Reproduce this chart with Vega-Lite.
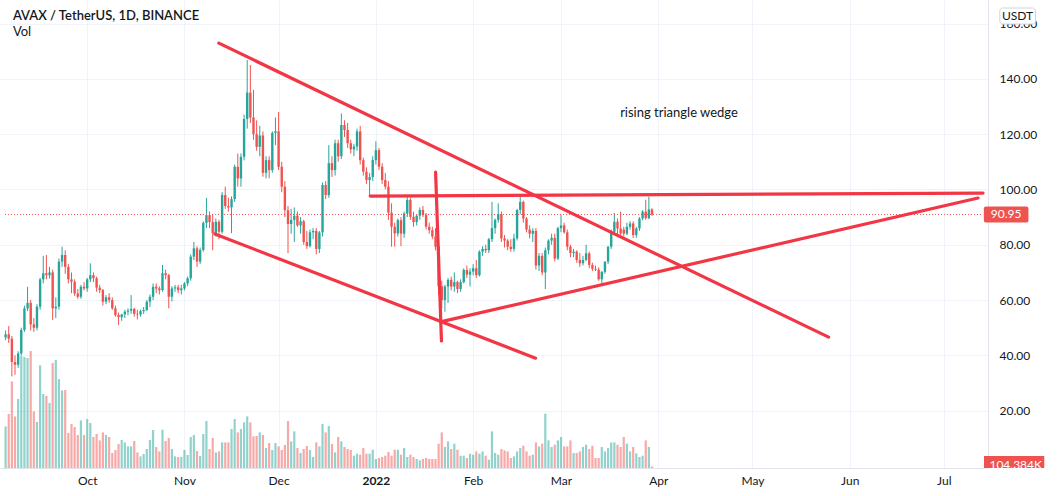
{
"$schema": "https://vega.github.io/schema/vega-lite/v6.json",
"width": 988,
"height": 468,
"autosize": {"type": "none"},
"padding": {"left": 0, "top": 0, "right": 71, "bottom": 28},
"background": "#ffffff",
"config": {
  "view": {"stroke": null},
  "font": "Lato",
  "axis": {"labelFont": "Lato", "labelFontSize": 12, "labelColor": "#131722", "gridColor": "#f0f3fa", "gridWidth": 1, "domainColor": "#e0e3eb", "ticks": false, "tickSize": 0}
},
"datasets": {
  "candles": [
    {"date":"2021-09-05","o":46.5,"h":49.0,"l":45.5,"c":47.6,"v":2829},
    {"date":"2021-09-06","o":47.6,"h":50.6,"l":44.5,"c":46.0,"v":3672},
    {"date":"2021-09-07","o":46.0,"h":47.0,"l":32.4,"c":37.6,"v":5889},
    {"date":"2021-09-08","o":37.6,"h":40.0,"l":33.0,"c":36.6,"v":3509},
    {"date":"2021-09-09","o":36.6,"h":41.5,"l":35.5,"c":40.7,"v":4692},
    {"date":"2021-09-10","o":40.7,"h":50.0,"l":40.0,"c":49.2,"v":7616},
    {"date":"2021-09-11","o":49.2,"h":58.0,"l":48.5,"c":57.0,"v":7548},
    {"date":"2021-09-12","o":57.0,"h":64.8,"l":56.0,"c":59.0,"v":7480},
    {"date":"2021-09-13","o":59.0,"h":60.0,"l":49.0,"c":51.2,"v":7956},
    {"date":"2021-09-14","o":51.2,"h":53.5,"l":48.5,"c":50.0,"v":3849},
    {"date":"2021-09-15","o":50.0,"h":58.5,"l":49.0,"c":57.6,"v":3128},
    {"date":"2021-09-16","o":57.6,"h":68.0,"l":56.5,"c":67.5,"v":6977},
    {"date":"2021-09-17","o":67.5,"h":76.0,"l":66.0,"c":69.7,"v":5032},
    {"date":"2021-09-18","o":69.7,"h":76.3,"l":67.5,"c":69.0,"v":4896},
    {"date":"2021-09-19","o":69.0,"h":72.0,"l":67.8,"c":70.0,"v":4420},
    {"date":"2021-09-20","o":70.0,"h":71.0,"l":52.8,"c":57.0,"v":7140},
    {"date":"2021-09-21","o":57.0,"h":61.0,"l":53.5,"c":57.6,"v":7344},
    {"date":"2021-09-22","o":57.6,"h":75.0,"l":56.5,"c":73.9,"v":6052},
    {"date":"2021-09-23","o":73.9,"h":79.3,"l":72.0,"c":76.3,"v":5277},
    {"date":"2021-09-24","o":76.3,"h":78.0,"l":69.5,"c":72.0,"v":5304},
    {"date":"2021-09-25","o":72.0,"h":73.0,"l":66.0,"c":67.5,"v":2380},
    {"date":"2021-09-26","o":67.5,"h":70.0,"l":62.5,"c":66.6,"v":2992},
    {"date":"2021-09-27","o":66.6,"h":67.5,"l":61.5,"c":62.4,"v":2788},
    {"date":"2021-09-28","o":62.4,"h":64.0,"l":60.5,"c":61.2,"v":2244},
    {"date":"2021-09-29","o":61.2,"h":65.5,"l":60.5,"c":64.8,"v":3237},
    {"date":"2021-09-30","o":64.8,"h":66.5,"l":63.5,"c":64.2,"v":2244},
    {"date":"2021-10-01","o":64.2,"h":68.0,"l":63.0,"c":67.5,"v":3332},
    {"date":"2021-10-02","o":67.5,"h":73.3,"l":66.5,"c":69.0,"v":3060},
    {"date":"2021-10-03","o":69.0,"h":70.0,"l":66.5,"c":67.9,"v":2108},
    {"date":"2021-10-04","o":67.9,"h":68.5,"l":63.0,"c":64.5,"v":2312},
    {"date":"2021-10-05","o":64.5,"h":65.5,"l":62.5,"c":63.6,"v":1877},
    {"date":"2021-10-06","o":63.6,"h":64.0,"l":58.0,"c":59.4,"v":2421},
    {"date":"2021-10-07","o":59.4,"h":61.8,"l":58.5,"c":61.0,"v":2244},
    {"date":"2021-10-08","o":61.0,"h":62.5,"l":59.0,"c":60.0,"v":2108},
    {"date":"2021-10-09","o":60.0,"h":61.0,"l":56.5,"c":57.0,"v":1020},
    {"date":"2021-10-10","o":57.0,"h":58.0,"l":54.0,"c":54.6,"v":1224},
    {"date":"2021-10-11","o":54.6,"h":55.5,"l":51.0,"c":53.8,"v":1632},
    {"date":"2021-10-12","o":53.8,"h":55.0,"l":52.5,"c":54.8,"v":1904},
    {"date":"2021-10-13","o":54.8,"h":56.5,"l":53.5,"c":55.8,"v":1741},
    {"date":"2021-10-14","o":55.8,"h":57.0,"l":54.5,"c":56.2,"v":1469},
    {"date":"2021-10-15","o":56.2,"h":61.8,"l":55.0,"c":56.8,"v":1469},
    {"date":"2021-10-16","o":56.8,"h":57.2,"l":54.0,"c":55.0,"v":1836},
    {"date":"2021-10-17","o":55.0,"h":56.5,"l":53.0,"c":54.8,"v":1061},
    {"date":"2021-10-18","o":54.8,"h":56.5,"l":54.0,"c":56.0,"v":789},
    {"date":"2021-10-19","o":56.0,"h":57.5,"l":55.0,"c":56.4,"v":952},
    {"date":"2021-10-20","o":56.4,"h":60.0,"l":56.0,"c":59.4,"v":1292},
    {"date":"2021-10-21","o":59.4,"h":62.0,"l":57.5,"c":61.2,"v":1904},
    {"date":"2021-10-22","o":61.2,"h":66.0,"l":60.0,"c":64.8,"v":2584},
    {"date":"2021-10-23","o":64.8,"h":66.0,"l":62.5,"c":64.2,"v":1428},
    {"date":"2021-10-24","o":64.2,"h":65.0,"l":62.0,"c":63.6,"v":1129},
    {"date":"2021-10-25","o":63.6,"h":72.7,"l":63.0,"c":69.7,"v":2600},
    {"date":"2021-10-26","o":69.7,"h":71.0,"l":67.5,"c":69.0,"v":1836},
    {"date":"2021-10-27","o":69.0,"h":69.5,"l":57.0,"c":61.2,"v":2040},
    {"date":"2021-10-28","o":61.2,"h":65.0,"l":59.5,"c":64.2,"v":1292},
    {"date":"2021-10-29","o":64.2,"h":65.5,"l":63.0,"c":64.6,"v":789},
    {"date":"2021-10-30","o":64.6,"h":65.5,"l":62.5,"c":63.6,"v":748},
    {"date":"2021-10-31","o":63.6,"h":65.5,"l":62.0,"c":64.2,"v":748},
    {"date":"2021-11-01","o":64.2,"h":66.5,"l":63.5,"c":66.0,"v":1224},
    {"date":"2021-11-02","o":66.0,"h":68.5,"l":65.0,"c":67.9,"v":884},
    {"date":"2021-11-03","o":67.9,"h":76.5,"l":67.0,"c":75.7,"v":2108},
    {"date":"2021-11-04","o":75.7,"h":81.0,"l":74.5,"c":78.7,"v":2244},
    {"date":"2021-11-05","o":78.7,"h":79.5,"l":72.0,"c":73.9,"v":1156},
    {"date":"2021-11-06","o":73.9,"h":79.0,"l":73.0,"c":78.1,"v":816},
    {"date":"2021-11-07","o":78.1,"h":88.5,"l":77.5,"c":87.9,"v":2312},
    {"date":"2021-11-08","o":87.9,"h":96.9,"l":86.0,"c":90.7,"v":3196},
    {"date":"2021-11-09","o":90.7,"h":92.0,"l":86.0,"c":88.2,"v":1292},
    {"date":"2021-11-10","o":88.2,"h":91.0,"l":78.0,"c":84.2,"v":2040},
    {"date":"2021-11-11","o":84.2,"h":89.5,"l":83.0,"c":88.3,"v":1061},
    {"date":"2021-11-12","o":88.3,"h":89.0,"l":82.0,"c":84.7,"v":1129},
    {"date":"2021-11-13","o":84.7,"h":99.0,"l":84.0,"c":98.0,"v":1741},
    {"date":"2021-11-14","o":98.0,"h":101.0,"l":93.0,"c":94.0,"v":1741},
    {"date":"2021-11-15","o":94.0,"h":97.0,"l":92.0,"c":93.5,"v":1741},
    {"date":"2021-11-16","o":93.5,"h":97.5,"l":84.2,"c":96.5,"v":2652},
    {"date":"2021-11-17","o":96.5,"h":109.0,"l":95.5,"c":108.2,"v":3332},
    {"date":"2021-11-18","o":108.2,"h":113.0,"l":101.0,"c":104.0,"v":2421},
    {"date":"2021-11-19","o":104.0,"h":113.0,"l":101.0,"c":111.8,"v":2652},
    {"date":"2021-11-20","o":111.8,"h":127.0,"l":110.5,"c":125.5,"v":3101},
    {"date":"2021-11-21","o":125.5,"h":146.8,"l":122.0,"c":135.0,"v":3509},
    {"date":"2021-11-22","o":135.0,"h":145.0,"l":124.0,"c":126.0,"v":3101},
    {"date":"2021-11-23","o":126.0,"h":136.0,"l":118.0,"c":120.0,"v":2149},
    {"date":"2021-11-24","o":120.0,"h":125.0,"l":114.0,"c":115.4,"v":2176},
    {"date":"2021-11-25","o":115.4,"h":123.0,"l":112.0,"c":119.5,"v":2421},
    {"date":"2021-11-26","o":119.5,"h":121.0,"l":104.6,"c":106.0,"v":2244},
    {"date":"2021-11-27","o":106.0,"h":112.0,"l":104.0,"c":110.6,"v":1360},
    {"date":"2021-11-28","o":110.6,"h":112.0,"l":104.0,"c":107.0,"v":1700},
    {"date":"2021-11-29","o":107.0,"h":121.0,"l":106.0,"c":120.4,"v":1224},
    {"date":"2021-11-30","o":120.4,"h":126.0,"l":116.0,"c":121.0,"v":1700},
    {"date":"2021-12-01","o":121.0,"h":128.0,"l":107.0,"c":108.2,"v":1469},
    {"date":"2021-12-02","o":108.2,"h":110.0,"l":99.0,"c":101.0,"v":1224},
    {"date":"2021-12-03","o":101.0,"h":103.0,"l":90.0,"c":92.5,"v":1564},
    {"date":"2021-12-04","o":92.5,"h":94.0,"l":77.0,"c":87.5,"v":3196},
    {"date":"2021-12-05","o":87.5,"h":93.0,"l":84.0,"c":89.0,"v":1809},
    {"date":"2021-12-06","o":89.0,"h":93.5,"l":81.0,"c":90.5,"v":2489},
    {"date":"2021-12-07","o":90.5,"h":92.0,"l":86.5,"c":87.0,"v":1360},
    {"date":"2021-12-08","o":87.0,"h":90.0,"l":84.0,"c":88.5,"v":1020},
    {"date":"2021-12-09","o":88.5,"h":89.0,"l":80.0,"c":81.0,"v":1292},
    {"date":"2021-12-10","o":81.0,"h":85.0,"l":78.5,"c":79.5,"v":1496},
    {"date":"2021-12-11","o":79.5,"h":85.5,"l":79.0,"c":84.5,"v":1224},
    {"date":"2021-12-12","o":84.5,"h":86.0,"l":82.0,"c":85.0,"v":748},
    {"date":"2021-12-13","o":85.0,"h":86.0,"l":76.5,"c":78.5,"v":1741},
    {"date":"2021-12-14","o":78.5,"h":85.0,"l":77.0,"c":84.5,"v":1469},
    {"date":"2021-12-15","o":84.5,"h":102.5,"l":83.0,"c":101.6,"v":2992},
    {"date":"2021-12-16","o":101.6,"h":103.0,"l":96.5,"c":98.0,"v":2421},
    {"date":"2021-12-17","o":98.0,"h":116.0,"l":97.0,"c":109.5,"v":2856},
    {"date":"2021-12-18","o":109.5,"h":112.0,"l":104.5,"c":107.0,"v":1632},
    {"date":"2021-12-19","o":107.0,"h":118.0,"l":105.0,"c":116.7,"v":1061},
    {"date":"2021-12-20","o":116.7,"h":118.0,"l":110.0,"c":112.0,"v":2108},
    {"date":"2021-12-21","o":112.0,"h":127.5,"l":111.0,"c":123.3,"v":1809},
    {"date":"2021-12-22","o":123.3,"h":125.0,"l":119.0,"c":121.5,"v":1428},
    {"date":"2021-12-23","o":121.5,"h":124.0,"l":115.0,"c":116.7,"v":1292},
    {"date":"2021-12-24","o":116.7,"h":118.0,"l":113.0,"c":114.5,"v":1224},
    {"date":"2021-12-25","o":114.5,"h":116.5,"l":112.0,"c":115.5,"v":836},
    {"date":"2021-12-26","o":115.5,"h":122.0,"l":114.0,"c":121.0,"v":972},
    {"date":"2021-12-27","o":121.0,"h":123.0,"l":109.0,"c":110.6,"v":904},
    {"date":"2021-12-28","o":110.6,"h":111.5,"l":105.0,"c":106.4,"v":1360},
    {"date":"2021-12-29","o":106.4,"h":108.0,"l":102.0,"c":103.4,"v":972},
    {"date":"2021-12-30","o":103.4,"h":106.0,"l":98.0,"c":104.5,"v":972},
    {"date":"2021-12-31","o":104.5,"h":112.0,"l":103.0,"c":110.6,"v":1244},
    {"date":"2022-01-01","o":110.6,"h":117.4,"l":109.0,"c":114.2,"v":612},
    {"date":"2022-01-02","o":114.2,"h":115.0,"l":107.0,"c":108.2,"v":680},
    {"date":"2022-01-03","o":108.2,"h":109.5,"l":102.0,"c":103.4,"v":748},
    {"date":"2022-01-04","o":103.4,"h":106.0,"l":100.0,"c":101.0,"v":836},
    {"date":"2022-01-05","o":101.0,"h":103.0,"l":89.0,"c":91.6,"v":1088},
    {"date":"2022-01-06","o":91.6,"h":95.0,"l":79.3,"c":86.5,"v":836},
    {"date":"2022-01-07","o":86.5,"h":88.0,"l":79.3,"c":84.1,"v":1244},
    {"date":"2022-01-08","o":84.1,"h":89.5,"l":83.0,"c":88.9,"v":1244},
    {"date":"2022-01-09","o":88.9,"h":90.0,"l":79.5,"c":84.0,"v":904},
    {"date":"2022-01-10","o":84.0,"h":92.0,"l":82.5,"c":91.3,"v":1360},
    {"date":"2022-01-11","o":91.3,"h":97.4,"l":90.0,"c":96.2,"v":748},
    {"date":"2022-01-12","o":96.2,"h":97.0,"l":89.0,"c":90.1,"v":904},
    {"date":"2022-01-13","o":90.1,"h":92.0,"l":86.5,"c":88.2,"v":748},
    {"date":"2022-01-14","o":88.2,"h":91.0,"l":87.0,"c":90.5,"v":612},
    {"date":"2022-01-15","o":90.5,"h":93.5,"l":89.0,"c":92.6,"v":517},
    {"date":"2022-01-16","o":92.6,"h":94.0,"l":90.0,"c":90.7,"v":612},
    {"date":"2022-01-17","o":90.7,"h":91.5,"l":85.5,"c":86.5,"v":680},
    {"date":"2022-01-18","o":86.5,"h":88.0,"l":84.0,"c":85.3,"v":612},
    {"date":"2022-01-19","o":85.3,"h":86.5,"l":82.0,"c":83.0,"v":612},
    {"date":"2022-01-20","o":83.0,"h":86.0,"l":78.0,"c":79.3,"v":612},
    {"date":"2022-01-21","o":79.3,"h":80.0,"l":62.0,"c":65.0,"v":1652},
    {"date":"2022-01-22","o":65.0,"h":67.0,"l":57.0,"c":60.0,"v":2421},
    {"date":"2022-01-23","o":60.0,"h":65.5,"l":55.8,"c":64.9,"v":1428},
    {"date":"2022-01-24","o":64.9,"h":68.0,"l":59.0,"c":67.3,"v":1809},
    {"date":"2022-01-25","o":67.3,"h":68.5,"l":63.5,"c":64.9,"v":1292},
    {"date":"2022-01-26","o":64.9,"h":70.0,"l":63.0,"c":66.5,"v":1652},
    {"date":"2022-01-27","o":66.5,"h":67.0,"l":62.5,"c":64.0,"v":1244},
    {"date":"2022-01-28","o":64.0,"h":67.5,"l":63.0,"c":66.5,"v":836},
    {"date":"2022-01-29","o":66.5,"h":71.5,"l":66.0,"c":70.9,"v":836},
    {"date":"2022-01-30","o":70.9,"h":72.5,"l":68.0,"c":69.2,"v":680},
    {"date":"2022-01-31","o":69.2,"h":71.5,"l":64.9,"c":70.3,"v":972},
    {"date":"2022-02-01","o":70.3,"h":73.0,"l":69.0,"c":71.5,"v":904},
    {"date":"2022-02-02","o":71.5,"h":74.5,"l":68.0,"c":69.0,"v":1129},
    {"date":"2022-02-03","o":69.0,"h":78.0,"l":68.5,"c":77.5,"v":972},
    {"date":"2022-02-04","o":77.5,"h":79.5,"l":76.0,"c":78.5,"v":1129},
    {"date":"2022-02-05","o":78.5,"h":80.0,"l":77.0,"c":78.0,"v":836},
    {"date":"2022-02-06","o":78.0,"h":82.5,"l":77.0,"c":82.0,"v":564},
    {"date":"2022-02-07","o":82.0,"h":95.5,"l":81.0,"c":86.0,"v":2489},
    {"date":"2022-02-08","o":86.0,"h":89.5,"l":84.0,"c":89.0,"v":1020},
    {"date":"2022-02-09","o":89.0,"h":95.0,"l":88.0,"c":91.0,"v":904},
    {"date":"2022-02-10","o":91.0,"h":92.0,"l":81.0,"c":82.3,"v":1292},
    {"date":"2022-02-11","o":82.3,"h":83.5,"l":79.0,"c":81.5,"v":1197},
    {"date":"2022-02-12","o":81.5,"h":82.0,"l":78.0,"c":79.3,"v":1129},
    {"date":"2022-02-13","o":79.3,"h":82.0,"l":77.5,"c":78.5,"v":680},
    {"date":"2022-02-14","o":78.5,"h":84.0,"l":77.5,"c":82.3,"v":789},
    {"date":"2022-02-15","o":82.3,"h":93.0,"l":81.5,"c":92.6,"v":1129},
    {"date":"2022-02-16","o":92.6,"h":97.5,"l":91.0,"c":95.5,"v":1360},
    {"date":"2022-02-17","o":95.5,"h":96.0,"l":88.0,"c":89.5,"v":1516},
    {"date":"2022-02-18","o":89.5,"h":90.0,"l":84.5,"c":85.5,"v":1129},
    {"date":"2022-02-19","o":85.5,"h":87.0,"l":82.3,"c":84.0,"v":836},
    {"date":"2022-02-20","o":84.0,"h":86.0,"l":81.0,"c":85.0,"v":904},
    {"date":"2022-02-21","o":85.0,"h":86.0,"l":71.0,"c":72.5,"v":1741},
    {"date":"2022-02-22","o":72.5,"h":77.0,"l":70.5,"c":76.0,"v":1469},
    {"date":"2022-02-23","o":76.0,"h":77.0,"l":69.0,"c":70.0,"v":1652},
    {"date":"2022-02-24","o":70.0,"h":79.0,"l":64.0,"c":78.0,"v":3692},
    {"date":"2022-02-25","o":78.0,"h":82.0,"l":76.5,"c":81.5,"v":1877},
    {"date":"2022-02-26","o":81.5,"h":84.0,"l":80.0,"c":82.5,"v":1428},
    {"date":"2022-02-27","o":82.5,"h":84.0,"l":74.0,"c":75.0,"v":1584},
    {"date":"2022-02-28","o":75.0,"h":86.5,"l":74.5,"c":86.0,"v":1877},
    {"date":"2022-03-01","o":86.0,"h":90.7,"l":84.5,"c":87.0,"v":2108},
    {"date":"2022-03-02","o":87.0,"h":88.0,"l":84.0,"c":84.5,"v":1469},
    {"date":"2022-03-03","o":84.5,"h":85.5,"l":78.0,"c":79.3,"v":1469},
    {"date":"2022-03-04","o":79.3,"h":80.0,"l":75.5,"c":77.0,"v":1877},
    {"date":"2022-03-05","o":77.0,"h":78.5,"l":75.5,"c":77.5,"v":1020},
    {"date":"2022-03-06","o":77.5,"h":78.0,"l":73.5,"c":74.5,"v":1020},
    {"date":"2022-03-07","o":74.5,"h":77.0,"l":72.0,"c":73.3,"v":1129},
    {"date":"2022-03-08","o":73.3,"h":76.0,"l":72.5,"c":74.5,"v":1428},
    {"date":"2022-03-09","o":74.5,"h":80.0,"l":74.0,"c":76.9,"v":1584},
    {"date":"2022-03-10","o":76.9,"h":77.5,"l":71.5,"c":72.7,"v":1292},
    {"date":"2022-03-11","o":72.7,"h":73.5,"l":70.5,"c":71.3,"v":1516},
    {"date":"2022-03-12","o":71.3,"h":72.5,"l":70.5,"c":71.0,"v":680},
    {"date":"2022-03-13","o":71.0,"h":71.8,"l":67.0,"c":67.5,"v":680},
    {"date":"2022-03-14","o":67.5,"h":70.5,"l":65.5,"c":70.2,"v":1428},
    {"date":"2022-03-15","o":70.2,"h":74.0,"l":69.5,"c":73.9,"v":1129},
    {"date":"2022-03-16","o":73.9,"h":79.5,"l":73.0,"c":79.3,"v":1360},
    {"date":"2022-03-17","o":79.3,"h":85.5,"l":78.5,"c":84.7,"v":1741},
    {"date":"2022-03-18","o":84.7,"h":91.5,"l":83.5,"c":88.3,"v":1741},
    {"date":"2022-03-19","o":88.3,"h":89.5,"l":83.5,"c":85.9,"v":1584},
    {"date":"2022-03-20","o":85.9,"h":92.0,"l":83.5,"c":84.1,"v":1428},
    {"date":"2022-03-21","o":85.5,"h":86.5,"l":83.0,"c":84.0,"v":2108},
    {"date":"2022-03-22","o":84.0,"h":88.0,"l":83.5,"c":86.5,"v":1652},
    {"date":"2022-03-23","o":86.5,"h":88.5,"l":85.5,"c":87.7,"v":1129},
    {"date":"2022-03-24","o":87.7,"h":88.5,"l":82.5,"c":83.5,"v":1428},
    {"date":"2022-03-25","o":83.5,"h":86.5,"l":82.5,"c":85.9,"v":1000},
    {"date":"2022-03-26","o":85.9,"h":90.0,"l":85.0,"c":89.5,"v":748},
    {"date":"2022-03-27","o":89.5,"h":92.5,"l":88.8,"c":92.0,"v":836},
    {"date":"2022-03-28","o":92.0,"h":96.3,"l":89.0,"c":89.6,"v":1877},
    {"date":"2022-03-29","o":89.6,"h":97.4,"l":89.2,"c":92.8,"v":1428},
    {"date":"2022-03-30","o":92.8,"h":93.2,"l":90.4,"c":90.95,"v":104.384}
  ],
  "drawn": [
    {"date":"2021-11-11T22:48:00Z","date2":"2022-05-25T06:29:00Z","p":152.9,"p2":46.6},
    {"date":"2021-11-10T16:34:00Z","date2":"2022-02-20T21:36:00Z","p":83.9,"p2":39.0},
    {"date":"2022-01-20T00:43:00Z","date2":"2022-01-21T21:36:00Z","p":106.3,"p2":45.2},
    {"date":"2021-12-30T04:48:00Z","date2":"2022-07-13T11:30:00Z","p":97.6,"p2":98.7},
    {"date":"2022-01-21T14:24:00Z","date2":"2022-07-11T21:36:00Z","p":52.1,"p2":96.9}
  ]
},
"encoding": {
  "x": {"field": "date", "type": "temporal",
    "scale": {"type": "utc", "nice": false,
      "domain": [{"year":2021,"month":9,"date":4,"hours":19,"minutes":27,"utc":true},{"year":2022,"month":7,"date":13,"hours":11,"minutes":30,"utc":true}]},
    "axis": {
      "orient": "bottom", "title": null, "grid": true, "domain": true, "labelPadding": 7, "labelFlush": false, "labelOverlap": false,
      "values": [
        {"year":2021,"month":10,"date":1,"utc":true},{"year":2021,"month":11,"date":1,"utc":true},{"year":2021,"month":12,"date":1,"utc":true},
        {"year":2022,"month":1,"date":1,"utc":true},{"year":2022,"month":2,"date":1,"utc":true},{"year":2022,"month":3,"date":1,"utc":true},
        {"year":2022,"month":4,"date":1,"utc":true},{"year":2022,"month":5,"date":1,"utc":true},{"year":2022,"month":6,"date":1,"utc":true},
        {"year":2022,"month":7,"date":1,"utc":true}],
      "labelExpr": "utcmonth(datum.value) == 0 ? utcFormat(datum.value, '%Y') : utcFormat(datum.value, '%b')",
      "labelFontWeight": {"condition": {"test": "utcmonth(datum.value) == 0", "value": "bold"}, "value": "normal"}
    }
  }
},
"layer": [
  {
    "data": {"name": "candles"},
    "mark": {"type": "bar", "width": 2.2, "opacity": 0.5},
    "encoding": {
      "y": {"field": "v", "type": "quantitative", "scale": {"domain": [0, 31824], "nice": false, "zero": true}, "axis": null},
      "color": {"condition": {"test": "datum.c >= datum.o", "value": "#26a69a"}, "value": "#ef5350"}
    }
  },
  {
    "encoding": {
      "y": {"type": "quantitative", "scale": {"domain": [-0.72, 168.5], "nice": false, "zero": false},
        "axis": {"orient": "right", "title": null, "values": [20,40,60,80,100,120,140,160], "format": ".2f", "grid": true, "domain": true, "labelPadding": 11, "labelAlign": "left"}}
    },
    "layer": [
      {
        "data": {"name": "candles"},
        "mark": {"type": "rule", "strokeWidth": 1},
        "encoding": {
          "y": {"field": "l", "type": "quantitative"},
          "y2": {"field": "h"},
          "color": {"condition": {"test": "datum.c >= datum.o", "value": "#26a69a"}, "value": "#ef5350"}
        }
      },
      {
        "data": {"name": "candles"},
        "mark": {"type": "bar", "width": 2.4},
        "encoding": {
          "y": {"field": "o", "type": "quantitative"},
          "y2": {"field": "c"},
          "color": {"condition": {"test": "datum.c >= datum.o", "value": "#26a69a"}, "value": "#ef5350"}
        }
      },
      {
        "data": {"values": [{"date":"2021-09-04T19:27:00Z","date2":"2022-07-13T11:30:00Z","p":90.95}]},
        "mark": {"type": "rule", "color": "#ef5350", "strokeWidth": 1, "strokeDash": [1, 2]},
        "encoding": {"x2": {"field": "date2"}, "y": {"field": "p", "type": "quantitative"}}
      },
      {
        "data": {"name": "drawn"},
        "mark": {"type": "rule", "color": "#f23645", "strokeWidth": 3.2, "strokeCap": "round"},
        "encoding": {"x2": {"field": "date2"}, "y": {"field": "p", "type": "quantitative"}, "y2": {"field": "p2"}}
      },
      {
        "data": {"values": [{"date":"2021-09-07T08:00:00Z","p":162.7,"t":"AVAX / TetherUS, 1D, BINANCE"}]},
        "mark": {"type": "text", "align": "left", "baseline": "middle", "font": "Lato", "fontSize": 13, "fontWeight": 600, "color": "#131722"},
        "encoding": {"y": {"field": "p", "type": "quantitative"}, "text": {"field": "t"}}
      },
      {
        "data": {"values": [{"date":"2021-09-07T08:00:00Z","p":156.8,"t":"Vol"}]},
        "mark": {"type": "text", "align": "left", "baseline": "middle", "font": "Lato", "fontSize": 13, "color": "#131722"},
        "encoding": {"y": {"field": "p", "type": "quantitative"}, "text": {"field": "t"}}
      },
      {
        "data": {"values": [{"date":"2022-04-07T14:24:00Z","p":127.5,"t":"rising triangle wedge"}]},
        "mark": {"type": "text", "align": "center", "baseline": "middle", "font": "Lato", "fontSize": 13, "color": "#131722"},
        "encoding": {"y": {"field": "p", "type": "quantitative"}, "text": {"field": "t"}}
      },
      {
        "data": {"values": [{"date":"2022-07-13T18:00:00Z","date2":"2022-07-27T23:00:00Z","p":93.85,"p2":88.05}]},
        "mark": {"type": "rect", "color": "#ef5350", "cornerRadius": 2},
        "encoding": {"x2": {"field": "date2"}, "y": {"field": "p", "type": "quantitative"}, "y2": {"field": "p2"}}
      },
      {
        "data": {"values": [{"date":"2022-07-20T21:00:00Z","p":90.95,"t":"90.95"}]},
        "mark": {"type": "text", "align": "center", "baseline": "middle", "font": "Lato", "fontSize": 12, "color": "#ffffff"},
        "encoding": {"y": {"field": "p", "type": "quantitative"}, "text": {"field": "t"}}
      },
      {
        "data": {"values": [{"date":"2022-07-18T20:00:00Z","date2":"2022-07-30T05:00:00Z","p":165.6,"p2":159.8}]},
        "mark": {"type": "rect", "fill": "#ffffff", "stroke": "#d1d4dc", "strokeWidth": 1, "cornerRadius": 3},
        "encoding": {"x2": {"field": "date2"}, "y": {"field": "p", "type": "quantitative"}, "y2": {"field": "p2"}}
      },
      {
        "data": {"values": [{"date":"2022-07-24T12:00:00Z","p":162.7,"t":"USDT"}]},
        "mark": {"type": "text", "align": "center", "baseline": "middle", "font": "Lato", "fontSize": 12, "color": "#131722"},
        "encoding": {"y": {"field": "p", "type": "quantitative"}, "text": {"field": "t"}}
      },
      {
        "data": {"values": [{"date":"2022-07-13T19:00:00Z","date2":"2022-08-02T00:00:00Z","p":3.6,"p2":-0.72}]},
        "mark": {"type": "rect", "color": "#ef5350"},
        "encoding": {"x2": {"field": "date2"}, "y": {"field": "p", "type": "quantitative"}, "y2": {"field": "p2"}}
      },
      {
        "data": {"values": [{"date":"2022-07-23T21:36:00Z","p":0.4,"t":"104.384K"}]},
        "mark": {"type": "text", "align": "center", "baseline": "middle", "font": "Lato", "fontSize": 12, "color": "#ffffff"},
        "encoding": {"y": {"field": "p", "type": "quantitative"}, "text": {"field": "t"}}
      },
      {
        "data": {"values": [{"date":"2022-07-13T13:00:00Z","date2":"2022-08-05T00:00:00Z","p":-0.9,"p2":-4.5}]},
        "mark": {"type": "rect", "color": "#ffffff"},
        "encoding": {"x2": {"field": "date2"}, "y": {"field": "p", "type": "quantitative"}, "y2": {"field": "p2"}}
      }
    ]
  }
],
"resolve": {"scale": {"y": "independent"}}
}
